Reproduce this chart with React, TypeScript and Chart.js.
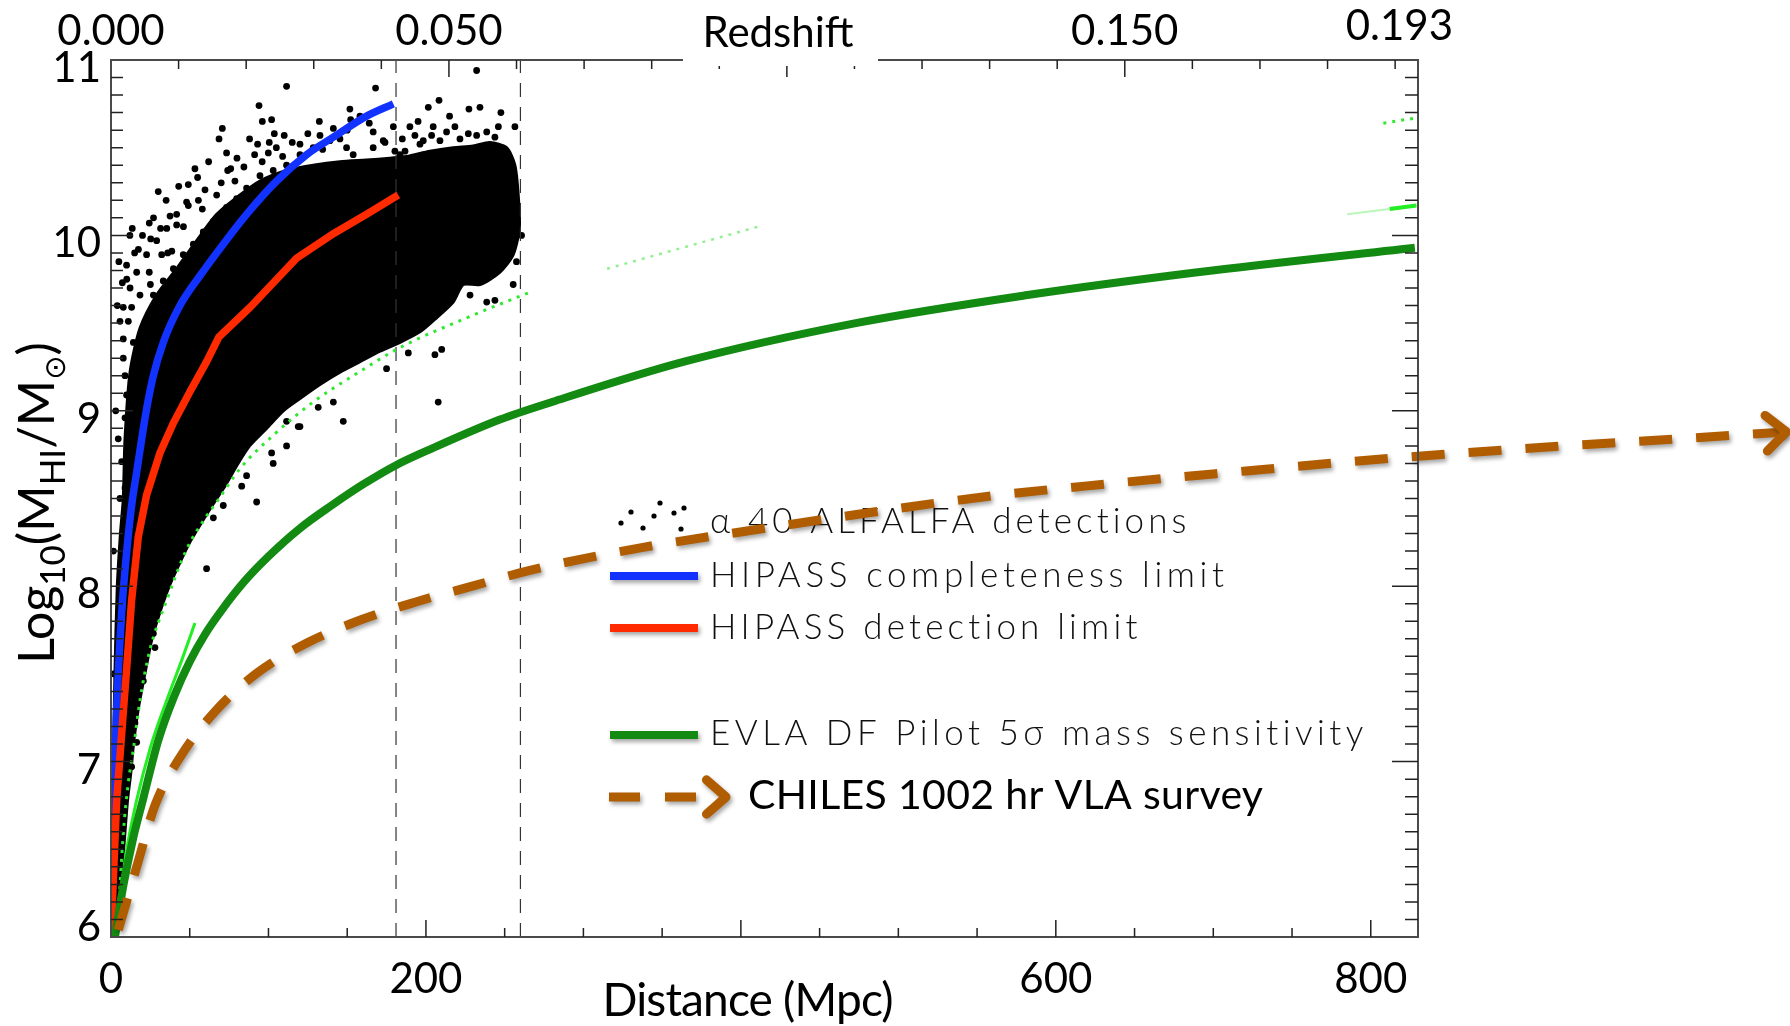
import React, { useEffect, useRef } from "react";
import { Chart, registerables } from "chart.js";

Chart.register(...registerables);

const CANVAS_W = 1790;
const CANVAS_H = 1026;

// ---- axes ----
const distanceMin = 0;
const distanceMax = 830;
const logMassMin = 6;
const logMassMax = 11;
const mpcPerRedshift = 4292;

const distanceTickLabels = [0, 200, 600, 800];
const logMassTickLabels = [6, 7, 8, 9, 10, 11];
const redshiftTickValues = [0, 0.05, 0.15, 0.193];
const redshiftTickLabels = ["0.000", "0.050", "0.150", "0.193"];

// ---- survey limits ----
const hipassCompletenessD = [0.5, 1.5, 2.5, 3.6, 6.8, 10, 13.1, 16.3, 19.5, 22.6, 26.9, 33.2, 43.8, 56.5, 71.3, 86.1, 105.2, 124.2, 141.2, 162.3, 179.3];
const hipassCompletenessM = [6.0, 6.6, 6.97, 7.3, 7.85, 8.2, 8.46, 8.65, 8.84, 9.01, 9.2, 9.39, 9.6, 9.77, 9.95, 10.12, 10.31, 10.46, 10.56, 10.68, 10.75];

const hipassDetectionD = [0, 3.6, 6.8, 10, 13.1, 17.3, 22.6, 31.1, 39.6, 50.2, 60.7, 68.5, 88.3, 105.2, 117.9, 141.2, 162.3, 182.4];
const hipassDetectionM = [6.02, 6.78, 7.16, 7.54, 7.92, 8.28, 8.52, 8.76, 8.93, 9.11, 9.28, 9.42, 9.59, 9.75, 9.87, 10.01, 10.12, 10.23];

const evlaD = [2.5, 8, 14, 20.5, 30, 40, 50, 60, 70, 85, 100, 120, 140, 160, 181, 205, 247, 280, 364, 473, 582, 690, 828];
const evlaM = [6.0, 6.3, 6.56, 6.79, 7.12, 7.37, 7.57, 7.73, 7.86, 8.03, 8.17, 8.33, 8.46, 8.58, 8.69, 8.79, 8.95, 9.05, 9.28, 9.5, 9.66, 9.79, 9.93];

const evlaThinD = [4.5, 10, 16.3, 25, 35.4, 45, 53.3];
const evlaThinM = [6.15, 6.5, 6.78, 7.08, 7.35, 7.58, 7.79];

const chilesD = [4.6, 16.3, 27.9, 44.2, 66.5, 93.5, 125.3, 159.2, 193.5, 229.4, 266, 337, 408, 482, 555, 629, 700, 828, 1064];
const chilesM = [6.04, 6.4, 6.75, 7.03, 7.29, 7.51, 7.68, 7.81, 7.91, 8.0, 8.09, 8.22, 8.32, 8.42, 8.51, 8.58, 8.64, 8.74, 8.88];

const alfalfaLimitD = [4.6, 7.8, 11, 14.2, 18.4, 24.8, 35.4, 48, 60.7, 67.1, 81.9, 103, 128.4, 153.8, 183.5, 225.8, 267.1];
const alfalfaLimitM = [6.12, 6.59, 6.88, 7.07, 7.35, 7.64, 7.92, 8.21, 8.4, 8.48, 8.67, 8.86, 9.05, 9.2, 9.36, 9.53, 9.68];
const alfalfaLimitFaintD = [315, 411];
const alfalfaLimitFaintM = [9.81, 10.05];
const edgeDottedD = [808, 829];
const edgeDottedM = [10.64, 10.67];
const edgeSolidD = [812, 829];
const edgeSolidM = [10.15, 10.17];
const edgeFaintD = [785, 812];
const edgeFaintM = [10.12, 10.15];

const dashedMarkerD = [181, 260];

// ---- alpha.40 detections: dense core outline + scattered detections ----
const cloudEdgeD = [1.2, 0.8, 1.5, 2.5, 4.0, 6.0, 7.8, 8.9, 12.1, 18.4, 29, 41.7, 54.4, 67.1, 81.9, 94.6, 111.5, 128.4, 145.4, 162.3, 177.1, 187.7, 202.5, 217.3, 230, 240.6, 251.2, 256.5, 258.6, 259.3, 255.4, 247, 234.3, 223.7, 217.3, 206.7, 196.2, 183.5, 170.8, 158.1, 145.4, 132.7, 120, 109.4, 98.8, 88, 80, 73, 65, 58, 50, 43, 37, 31, 26, 21.5, 17.5, 14.5, 12.5, 10.5, 8, 5.5, 3.5];
const cloudEdgeM = [6.1, 6.6, 7.0, 7.5, 8.0, 8.3, 8.5, 8.84, 9.22, 9.47, 9.66, 9.81, 9.97, 10.12, 10.23, 10.31, 10.37, 10.4, 10.42, 10.43, 10.44, 10.45, 10.48, 10.5, 10.51, 10.53, 10.5, 10.4, 10.23, 10.04, 9.89, 9.79, 9.72, 9.72, 9.62, 9.53, 9.45, 9.39, 9.34, 9.28, 9.22, 9.15, 9.07, 9.0, 8.9, 8.8, 8.69, 8.58, 8.47, 8.37, 8.25, 8.12, 8.0, 7.85, 7.7, 7.5, 7.31, 7.12, 6.93, 6.78, 6.5, 6.25, 6.05];

const detectionD = [232.2, 111.5, 168, 94, 208.3, 234.3, 227.3, 201.5, 247.6, 151.7, 152.2, 158.1, 96.1, 102, 132.3, 70.7, 68.6, 103.7, 110, 120, 115.1, 100.5, 93.1, 99.9, 73.4, 53.3, 74.1, 59.7, 67.1, 78.7, 84.4, 91.2, 109, 134.4, 139, 145.4, 166.5, 164, 179.3, 174, 180.3, 189.8, 204.6, 218.4, 213.1, 203.6, 193, 186.7, 226.9, 232.2, 238.6, 246, 256.5, 243.8, 198.3,
  49.1, 49.1, 55.5, 37.5, 24.3, 13.5, 31.5, 25.2, 41.7, 17.4, 9.9, 7.2, 24.3, 32.2, 38.6, 13.1, 18.4, 7.8, 14.2, 11, 7.8, 8.9, 9.9, 8.9, 4.6, 6.8, 8.9, 5.7,
  207.8, 147.5, 120, 103, 92.5, 175, 205.7, 210, 188.8, 238.6, 243.8, 255.4, 257.5, 260.7, 228, 141.2, 131.6, 111.5, 102,
  60.7, 1.5, 1.5, 118.9, 111.5, 86.1, 83, 65, 71.3, 27.9, 26.9, 20.5, 16.3, 15.2, 16.3, 13.1,
  132.7, 141.2, 153.8, 166.5, 172.9, 120, 128.4, 111.5, 103, 94.6, 86.1, 79.8, 73.4, 65, 58.6, 52.3, 45.9, 39.6, 33.2, 26.9, 48, 41.7, 35.4, 29, 22.6, 16.3, 12.1, 7.8, 5.7, 149.6, 183.5, 196.2, 208.9, 221.6,
  10, 15, 20, 27, 35, 43, 55, 62, 80, 88, 105, 125, 25, 36, 46, 58, 70, 4, 3, 5, 12, 30, 76, 96, 150, 185, 215, 195];
const detectionM = [10.94, 10.85, 10.84, 10.74, 10.77, 10.73, 10.72, 10.73, 10.7, 10.72, 10.66, 10.68, 10.65, 10.66, 10.65, 10.61, 10.55, 10.58, 10.57, 10.52, 10.53, 10.53, 10.52, 10.47, 10.47, 10.38, 10.37, 10.26, 10.23, 10.31, 10.39, 10.46, 10.45, 10.49, 10.54, 10.55, 10.59, 10.64, 10.62, 10.53, 10.48, 10.62, 10.62, 10.62, 10.59, 10.57, 10.57, 10.48, 10.58, 10.57, 10.59, 10.62, 10.62, 10.56, 10.54,
  10.29, 10.17, 10.2, 10.11, 10.07, 10.04, 10.04, 9.98, 10.06, 9.92, 9.83, 9.73, 9.79, 9.89, 9.91, 9.59, 9.66, 9.41, 9.39, 9.51, 9.3, 9.2, 9.09, 8.96, 8.84, 8.71, 8.56, 8.5,
  9.05, 8.94, 8.91, 8.7, 8.48, 9.24, 9.32, 9.35, 9.33, 9.62, 9.63, 9.72, 9.85, 10.0, 9.66, 9.05, 9.02, 8.94, 8.76,
  8.1, 7.5, 8.2, 8.91, 8.8, 8.63, 8.57, 8.39, 8.46, 7.65, 7.73, 7.46, 7.35, 7.22, 7.11, 6.97,
  10.57, 10.61, 10.46, 10.5, 10.54, 10.46, 10.5, 10.4, 10.37, 10.34, 10.27, 10.21, 10.16, 10.08, 10.02, 9.95, 9.89, 9.81, 9.74, 9.66, 10.19, 10.12, 10.04, 9.97, 9.89, 9.79, 9.7, 9.59, 9.51, 10.5, 10.46, 10.52, 10.54, 10.55,
  9.75, 9.9, 10.0, 10.1, 10.2, 10.28, 10.33, 10.42, 10.44, 10.55, 10.5, 10.58, 9.72, 9.9, 10.05, 10.15, 10.3, 9.6, 9.0, 9.85, 10.0, 10.25, 10.38, 10.42, 10.6, 10.55, 10.68, 10.65];

// ---- legend ----
const legendLabels = [
  "\u03B1 40 ALFALFA detections",
  "HIPASS completeness limit",
  "HIPASS detection limit",
  "EVLA DF Pilot 5\u03C3 mass sensitivity",
  "CHILES 1002 hr VLA survey",
];

const BLUE = "#1232ff";
const RED = "#ff2a00";
const DKGREEN = "#138b13";
const LTGREEN = "#22ee22";
const BROWN = "#b05c00";

const pts = (xs: number[], ys: number[]) => xs.map((x, i) => ({ x, y: ys[i] }));

function drawFitted(ctx: CanvasRenderingContext2D, text: string, x: number, y: number, width: number, font: string, align = "left") {
  ctx.save();
  ctx.font = font;
  (ctx as any).letterSpacing = "0px";
  const w = ctx.measureText(text).width;
  const n = Array.from(text).length;
  const sp = n > 1 ? (width - w) / (n - 1) : 0;
  (ctx as any).letterSpacing = `${sp}px`;
  ctx.textAlign = "left";
  ctx.textBaseline = "alphabetic";
  const x0 = align === "center" ? x - width / 2 : x;
  ctx.fillText(text, x0, y);
  ctx.restore();
}

function chevron(ctx: CanvasRenderingContext2D, x: number, y: number, ang: number, len: number, spread: number, width: number) {
  ctx.save();
  ctx.strokeStyle = BROWN;
  ctx.lineWidth = width;
  ctx.lineCap = "round";
  ctx.lineJoin = "round";
  ctx.beginPath();
  ctx.moveTo(x - len * Math.cos(ang - spread), y - len * Math.sin(ang - spread));
  ctx.lineTo(x, y);
  ctx.lineTo(x - len * Math.cos(ang + spread), y - len * Math.sin(ang + spread));
  ctx.stroke();
  ctx.restore();
}

function setShadow(ctx: CanvasRenderingContext2D) {
  ctx.shadowColor = "rgba(0,0,0,0.35)";
  ctx.shadowBlur = 4;
  ctx.shadowOffsetX = 2;
  ctx.shadowOffsetY = 3;
}

const decorPlugin = {
  id: "decor",
  beforeDatasetsDraw(chart: any) {
    const ctx: CanvasRenderingContext2D = chart.ctx;
    ctx.save();
    // legend symbols
    ctx.fillStyle = "#000";
    const dots = [[631, 512], [660, 503], [684, 508], [621, 523], [654, 516], [674, 513], [643, 528], [681, 529]];
    dots.forEach(([dx, dy]) => {
      ctx.beginPath();
      ctx.arc(dx, dy, 2.6, 0, Math.PI * 2);
      ctx.fill();
    });
    ctx.save();
    setShadow(ctx);
    ctx.lineWidth = 8;
    ctx.lineCap = "butt";
    [[BLUE, 576], [RED, 628], [DKGREEN, 735]].forEach(([c, yy]) => {
      ctx.strokeStyle = c as string;
      ctx.beginPath();
      ctx.moveTo(610, yy as number);
      ctx.lineTo(698, yy as number);
      ctx.stroke();
    });
    ctx.strokeStyle = BROWN;
    ctx.lineWidth = 9;
    ctx.beginPath();
    ctx.moveTo(609, 797); ctx.lineTo(640, 797);
    ctx.moveTo(665, 797); ctx.lineTo(696, 797);
    ctx.stroke();
    chevron(ctx, 726, 797, 0, 26, 0.72, 9);
    ctx.restore();

    ctx.fillStyle = "#111";
    const lf = '300 35px Lato, "DejaVu Sans", sans-serif';
    drawFitted(ctx, legendLabels[0], 710, 533, 477, lf);
    drawFitted(ctx, legendLabels[1], 710, 587, 514, lf);
    drawFitted(ctx, legendLabels[2], 710, 639, 428, lf);
    drawFitted(ctx, legendLabels[3], 710, 745, 654, lf);
    ctx.fillStyle = "#000";
    drawFitted(ctx, legendLabels[4], 748, 809, 515, '41px Lato, "DejaVu Sans", sans-serif');
    ctx.restore();
  },
  beforeDatasetDraw(chart: any, args: any) {
    if (args.index === 0) {
      chart.ctx.save();
      setShadow(chart.ctx);
    }
  },
  afterDatasetDraw(chart: any, args: any) {
    if (args.index === 0) {
      const ctx: CanvasRenderingContext2D = chart.ctx;
      const data = chart.getDatasetMeta(0).data;
      const p1 = data[data.length - 1];
      const p0 = data[data.length - 2];
      const ang = Math.atan2(p1.y - p0.y, p1.x - p0.x);
      chevron(ctx, p1.x, p1.y, ang, 27, 0.72, 9);
      ctx.restore();
    }
  },
  afterDatasetsDraw(chart: any) {
    const ctx: CanvasRenderingContext2D = chart.ctx;
    const a = chart.chartArea;
    const xs = chart.scales.x;
    const ys = chart.scales.y;
    ctx.save();
    // frame
    ctx.strokeStyle = "#4a4a4a";
    ctx.lineWidth = 2;
    ctx.strokeRect(a.left, a.top, a.right - a.left, a.bottom - a.top);
    // ticks
    ctx.strokeStyle = "#222";
    ctx.lineWidth = 1.5;
    ctx.beginPath();
    for (let d = 50; d < distanceMax; d += 50) {
      const px = xs.getPixelForValue(d);
      const len = d % 200 === 0 ? 17 : 9;
      ctx.moveTo(px, a.bottom);
      ctx.lineTo(px, a.bottom - len);
    }
    for (let i = 1; i <= 19; i++) {
      const px = xs.getPixelForValue((i / 100) * mpcPerRedshift);
      const len = i % 5 === 0 ? 17 : 9;
      ctx.moveTo(px, a.top);
      ctx.lineTo(px, a.top + len);
    }
    for (let i = 1; i < 50; i++) {
      const py = ys.getPixelForValue(logMassMin + i / 10);
      const major = i % 10 === 0;
      ctx.moveTo(a.left, py);
      ctx.lineTo(a.left + (major ? 22 : 12), py);
      ctx.moveTo(a.right, py);
      ctx.lineTo(a.right - (major ? 26 : 13), py);
    }
    ctx.stroke();

    // redshift title box
    ctx.fillStyle = "#fff";
    ctx.fillRect(683, 0, 195, 66);

    ctx.fillStyle = "#000";
    ctx.font = "42px Lato, sans-serif";
    ctx.textBaseline = "alphabetic";
    ctx.textAlign = "center";
    distanceTickLabels.forEach((d) => ctx.fillText(String(d), xs.getPixelForValue(d), a.bottom + 56));
    redshiftTickValues.forEach((z, i) => {
      let px = xs.getPixelForValue(z * mpcPerRedshift);
      let by = a.top - 15;
      if (i === redshiftTickValues.length - 1) {
        px -= 16;
        by = a.top - 20;
      }
      ctx.fillText(redshiftTickLabels[i], px, by);
    });
    ctx.fillText("Redshift", 778, 47);
    ctx.textAlign = "right";
    logMassTickLabels.forEach((v) => {
      const py = ys.getPixelForValue(v);
      ctx.fillText(String(v), a.left - 10, Math.min(py + 22, a.bottom + 4));
    });
    drawFitted(ctx, "Distance (Mpc)", 748, 1016, 291, "46px Lato, sans-serif", "center");

    // y title
    const parts = [
      { t: "Log", sub: false, sym: false },
      { t: "10", sub: true, sym: false },
      { t: "(M", sub: false, sym: false },
      { t: "HI", sub: true, sym: false },
      { t: "/M", sub: false, sym: false },
      { t: "\u2299", sub: true, sym: true },
      { t: ")", sub: false, sym: false },
    ];
    const fontFor = (p: any, s: number) =>
      p.sym ? `${Math.round(26 * s)}px "DejaVu Sans", sans-serif` : p.sub ? `${Math.round(31 * s)}px Lato, sans-serif` : `${Math.round(45 * s)}px Lato, sans-serif`;
    let total = 0;
    parts.forEach((p) => { ctx.font = fontFor(p, 1); total += ctx.measureText(p.t).width; });
    const scale = 322 / total;
    const widths: number[] = [];
    total = 0;
    parts.forEach((p) => { ctx.font = fontFor(p, scale); const w = ctx.measureText(p.t).width; widths.push(w); total += w; });
    ctx.save();
    ctx.translate(54, 503);
    ctx.rotate(-Math.PI / 2);
    ctx.textAlign = "left";
    let cx = -total / 2;
    parts.forEach((p, i) => {
      ctx.font = fontFor(p, scale);
      ctx.fillText(p.t, cx, p.sub ? 11 : 0);
      cx += widths[i];
    });
    ctx.restore();
    ctx.restore();
  },
};

export default function App() {
  const ref = useRef<HTMLCanvasElement>(null);
  useEffect(() => {
    const canvas = ref.current!;
    const line = (d: number[], m: number[], extra: any) => ({
      type: "line",
      data: pts(d, m),
      pointRadius: 0,
      fill: false,
      tension: 0,
      ...extra,
    });
    const chart = new Chart(canvas, {
      type: "line",
      data: {
        datasets: [
          line(chilesD, chilesM, { borderColor: BROWN, borderWidth: 9, borderDash: [33, 24], cubicInterpolationMode: "monotone", clip: false, borderCapStyle: "butt" }),
          line(evlaD, evlaM, { borderColor: DKGREEN, borderWidth: 8, cubicInterpolationMode: "monotone" }),
          line(evlaThinD, evlaThinM, { borderColor: LTGREEN, borderWidth: 3, cubicInterpolationMode: "monotone" }),
          line(hipassDetectionD, hipassDetectionM, { borderColor: RED, borderWidth: 7.5 }),
          line(hipassCompletenessD, hipassCompletenessM, { borderColor: BLUE, borderWidth: 7.5, cubicInterpolationMode: "monotone" }),
          line(alfalfaLimitD, alfalfaLimitM, { borderColor: "#2fe82f", borderWidth: 3, borderDash: [3, 6], cubicInterpolationMode: "monotone" }),
          line(alfalfaLimitFaintD, alfalfaLimitFaintM, { borderColor: "rgba(60,225,60,0.55)", borderWidth: 2.5, borderDash: [3, 6] }),
          line(edgeDottedD, edgeDottedM, { borderColor: "#2fe82f", borderWidth: 3, borderDash: [3, 6] }),
          line(edgeSolidD, edgeSolidM, { borderColor: LTGREEN, borderWidth: 4 }),
          line(edgeFaintD, edgeFaintM, { borderColor: "rgba(100,235,100,0.45)", borderWidth: 2 }),
          line([dashedMarkerD[0], dashedMarkerD[0]], [logMassMin, logMassMax], { borderColor: "#333", borderWidth: 1.2, borderDash: [14, 10] }),
          line([dashedMarkerD[1], dashedMarkerD[1]], [logMassMin, logMassMax], { borderColor: "#333", borderWidth: 1.2, borderDash: [14, 10] }),
          {
            type: "scatter",
            data: pts(detectionD, detectionM),
            pointRadius: 3.4,
            pointBackgroundColor: "#000",
            pointBorderWidth: 0,
            showLine: false,
          },
          line(cloudEdgeD, cloudEdgeM, { borderColor: "#000", backgroundColor: "#000", borderWidth: 3, fill: "shape", cubicInterpolationMode: "default", tension: 0.25 }),
        ] as any,
      },
      options: {
        responsive: false,
        animation: false,
        devicePixelRatio: 1,
        events: [],
        layout: { padding: { left: 111, right: CANVAS_W - 1418, top: 60, bottom: CANVAS_H - 937 } },
        plugins: { legend: { display: false }, tooltip: { enabled: false }, title: { display: false } },
        scales: {
          x: { type: "linear", min: distanceMin, max: distanceMax, display: false },
          y: { type: "linear", min: logMassMin, max: logMassMax, display: false },
        },
      } as any,
      plugins: [decorPlugin as any],
    });
    return () => chart.destroy();
  }, []);
  return (
    <div style={{ position: "fixed", left: 0, top: 0, width: CANVAS_W, height: CANVAS_H, background: "#fff" }}>
      <canvas ref={ref} width={CANVAS_W} height={CANVAS_H} style={{ width: CANVAS_W, height: CANVAS_H, display: "block" }} />
    </div>
  );
}
